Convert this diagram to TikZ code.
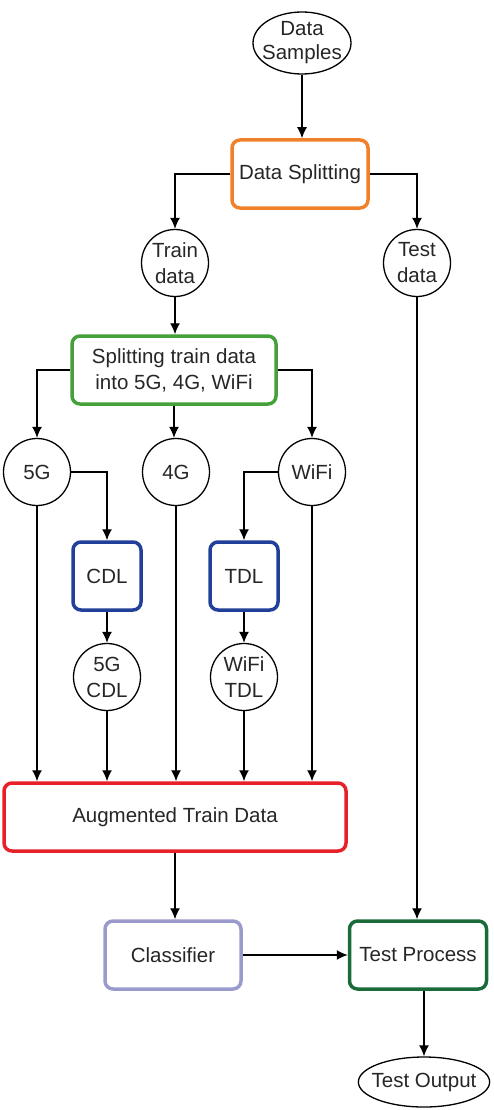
\documentclass[tikz,border=0pt]{standalone}
\usepackage{fontspec}
\setmainfont{Liberation Sans}
\usetikzlibrary{arrows.meta,shapes.geometric}

\definecolor{splitorange}{HTML}{F0812A}
\definecolor{splitgreen}{HTML}{45A03A}
\definecolor{chanblue}{HTML}{22409A}
\definecolor{augred}{HTML}{E8202A}
\definecolor{clslav}{HTML}{9A9ACC}
\definecolor{testgreen}{HTML}{1B6B3A}

\tikzset{>={Latex[length=11pt,width=10pt]},
  every node/.style={font=\fontsize{20.5}{26}\selectfont, text=black!85},
  circ/.style={circle,draw,line width=1.3pt,minimum size=67pt,inner sep=0pt,align=center},
  oval/.style={ellipse,draw,line width=1.3pt,inner ysep=0pt,inner xsep=-6pt,align=center},
  blk/.style={draw=#1,rounded corners=8pt,line width=3.5pt,minimum height=68pt,align=center},
  link/.style={->,line width=1.4pt}
}

\begin{document}
\begin{tikzpicture}[x=1pt,y=-1pt]
    \useasboundingbox (0,0) rectangle (493,1110);

    % top part
    \node[oval,minimum width=98pt,minimum height=62pt] (samples) at (302,43) {Data\\[-2pt]Samples};
    \node[blk=splitorange,minimum width=136pt] (split) at (300,174) {Data Splitting};
    \node[circ] (train) at (175,263) {Train\\data};
    \node[circ] (test) at (417,263) {Test\\data};
    \node[blk=splitgreen,minimum width=204pt] (trsplit) at (174,370) {Splitting train data\\into 5G, 4G, WiFi};

    % per technology
    \node[circ] (g5) at (37,472) {5G};
    \node[circ] (g4) at (176,472) {4G};
    \node[circ] (wifi) at (312,472) {WiFi};
    \node[blk=chanblue,minimum width=68pt] (cdl) at (107,576) {CDL};
    \node[blk=chanblue,minimum width=68pt] (tdl) at (244,576) {TDL};
    \node[circ] (g5cdl) at (107,677) {5G\\CDL};
    \node[circ] (wifitdl) at (244,677) {WiFi\\TDL};

    % bottom part
    \node[blk=augred,minimum width=342pt] (aug) at (175,817) {Augmented Train Data};
    \node[blk=clslav,minimum width=136pt] (cls) at (173,955) {Classifier};
    \node[blk=testgreen,minimum width=137pt] (tproc) at (418,955) {Test Process};
    \node[oval,minimum width=120pt,minimum height=50pt] (tout) at (424,1082) {Test Output};

    \draw[link] (samples) -- (samples |- split.north);
    \draw[link] (split.west) -| (train.north);
    \draw[link] (split.east) -| (test.north);
    \draw[link] (train) -- (train |- trsplit.north);
    \draw[link] (trsplit.west) -| (g5.north);
    \draw[link] (trsplit) -- (trsplit |- g4.north);
    \draw[link] (trsplit.east) -| (wifi.north);
    \draw[link] (g5.east) -| (cdl.north);
    \draw[link] (wifi.west) -| (tdl.north);
    \draw[link] (cdl) -- (g5cdl);
    \draw[link] (tdl) -- (wifitdl);

    \foreach \src in {g5,g5cdl,g4,wifitdl,wifi}{
        \draw[link] (\src) -- (\src |- aug.north);
    }

    \draw[link] (test) -- (test |- tproc.north);
    \draw[link] (aug) -- (aug |- cls.north);
    \draw[link] (cls) -- (tproc);
    \draw[link] (tproc.south -| tout) -- (tout.north);
\end{tikzpicture}
\end{document}
